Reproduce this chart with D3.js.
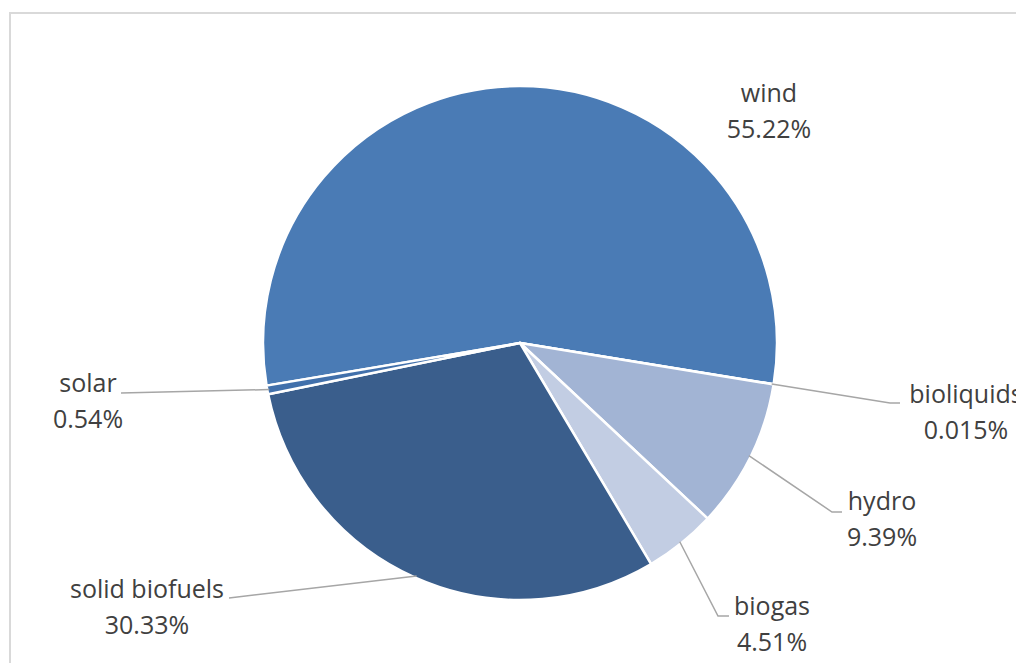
<!DOCTYPE html>
<html>
<head>
<meta charset="utf-8">
<script src="https://cdn.jsdelivr.net/npm/d3@7"></script>
<style>
  html, body { margin: 0; padding: 0; background: #fff; overflow: hidden; }
  svg { display: block; }
</style>
</head>
<body>
<svg id="chart" width="1016" height="663"></svg>
<script>
// Renewable energy sources: share of total (%)
const categories = ["wind", "bioliquids", "hydro", "biogas", "solid biofuels", "solar"];
const shares = [55.22, 0.015, 9.39, 4.51, 30.33, 0.54];
const shareLabels = ["55.22%", "0.015%", "9.39%", "4.51%", "30.33%", "0.54%"];
const sliceColors = ["#4a7bb5", "#6f8fc4", "#a2b4d4", "#c2cde3", "#3a5e8c", "#4170ab"];

// Label anchor (centre of the text block) and leader-line elbow per slice
const labelCenters = [[769, 102], [966, 403], [882, 510], [772, 615], [147, 598], [88, 392]];
const leaderElbows = [null, [890, 403], [832, 512], [718, 616], [229, 598], [121, 393]];
const leaderEnds = [null, [900, 403], [842, 512], [729, 616], [229, 598], [121, 393]];

const svg = d3.select("#chart");
const cx = 520, cy = 343, radius = 257;

// Chart frame
svg.append("rect")
  .attr("x", 10).attr("y", 13)
  .attr("width", 1016).attr("height", 700)
  .attr("fill", "none")
  .attr("stroke", "#d9d9d9")
  .attr("stroke-width", 2);

const data = categories.map((c, i) => ({ name: c, value: shares[i], label: shareLabels[i], i }));

const startDeg = -99.55;
const pie = d3.pie()
  .value(d => d.value)
  .sort(null)
  .startAngle(startDeg * Math.PI / 180)
  .endAngle((startDeg + 360) * Math.PI / 180);

const arcs = pie(data);
const arc = d3.arc().innerRadius(0).outerRadius(radius);
const edgeArc = d3.arc().innerRadius(radius - 2).outerRadius(radius - 2);

const g = svg.append("g").attr("transform", `translate(${cx},${cy})`);

g.selectAll("path.slice")
  .data(arcs)
  .join("path")
  .attr("class", "slice")
  .attr("d", arc)
  .attr("fill", d => sliceColors[d.data.i])
  .attr("stroke", "#fff")
  .attr("stroke-width", 2.5)
  .attr("stroke-linejoin", "round");

// Leader lines from the slice edge to the label
arcs.forEach(d => {
  const i = d.data.i;
  if (!leaderElbows[i]) return;
  const [ex, ey] = edgeArc.centroid(d);
  const start = [cx + ex, cy + ey];
  const pts = [leaderEnds[i], leaderElbows[i], start];
  svg.append("path")
    .attr("d", d3.line()(pts))
    .attr("fill", "none")
    .attr("stroke", "#a6a6a6")
    .attr("stroke-width", 1.5);
});

// Category + percentage labels
const font = "'Open Sans', 'Liberation Sans', sans-serif";
data.forEach((d, i) => {
  const [lx, ly] = labelCenters[i];
  const t = svg.append("text")
    .attr("text-anchor", "middle")
    .attr("font-family", font)
    .attr("font-size", 25)
    .attr("fill", "#404040");
  t.append("tspan").attr("x", lx).attr("y", ly).text(d.name);
  t.append("tspan").attr("x", lx).attr("y", ly + 36).text(d.label);
});
</script>
</body>
</html>
